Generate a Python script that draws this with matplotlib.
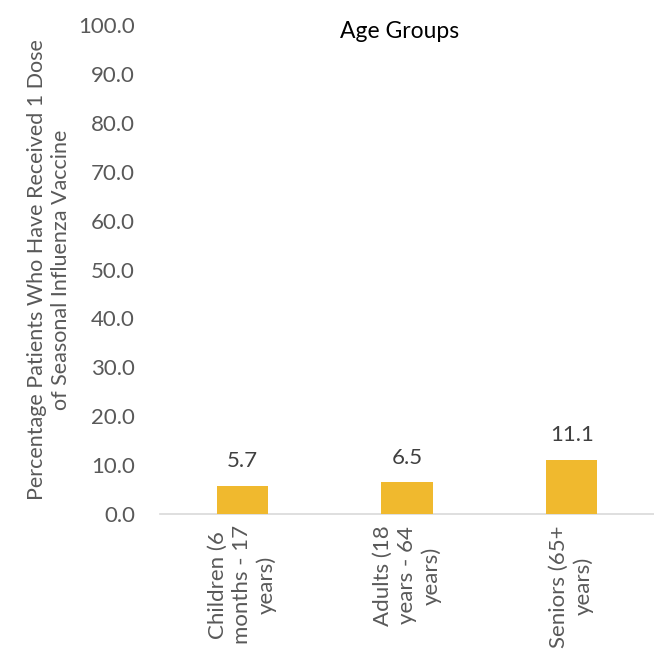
import matplotlib
matplotlib.use("Agg")
import matplotlib.pyplot as plt

categories = ["Children (6\nmonths - 17\nyears)", "Adults (18\nyears - 64\nyears)", "Seniors (65+\nyears)"]
values = [5.7, 6.5, 11.1]
yticks = [0, 10, 20, 30, 40, 50, 60, 70, 80, 90, 100]

plt.rcParams['font.family'] = ['Lato', 'DejaVu Sans']
grey = "#595959"

fig = plt.figure(figsize=(6.54, 6.49), dpi=100)
ax = fig.add_axes([160/654, 1 - 514/649, 494/654, (514-25)/649])

x = list(range(len(categories)))
ax.bar(x, values, width=0.31, color="#F0B92E", zorder=3)
for xi, v in zip(x, values):
    ax.text(xi, v + 3, f"{v:.1f}", ha="center", va="bottom", fontsize=16, color="#404040")

ax.set_xlim(-0.5, 2.5)
ax.set_ylim(0, 100)
ax.set_yticks(yticks)
ax.set_yticklabels([f"{t:.1f}" for t in yticks], fontsize=16, color=grey)
ax.set_xticks(x)
ax.set_xticklabels(categories, rotation=90, fontsize=16, color=grey, ha="center", va="top",
                   multialignment="center", linespacing=1.25)
ax.tick_params(axis="both", length=0, pad=8)
ax.tick_params(axis="y", pad=18)

for s in ["top", "right", "left"]:
    ax.spines[s].set_visible(False)
ax.spines["bottom"].set_color("#D9D9D9")
ax.spines["bottom"].set_linewidth(1.2)

fig.text(400/654, 1 - 32/649, "Age Groups", fontsize=16.5, color="black", ha="center", va="center")
ax.set_ylabel("Percentage Patients Who Have Received 1 Dose\nof Seasonal Influenza Vaccine", fontsize=15.5,
              color=grey, labelpad=5, linespacing=1.3)

fig.savefig("out.png", dpi=100)
